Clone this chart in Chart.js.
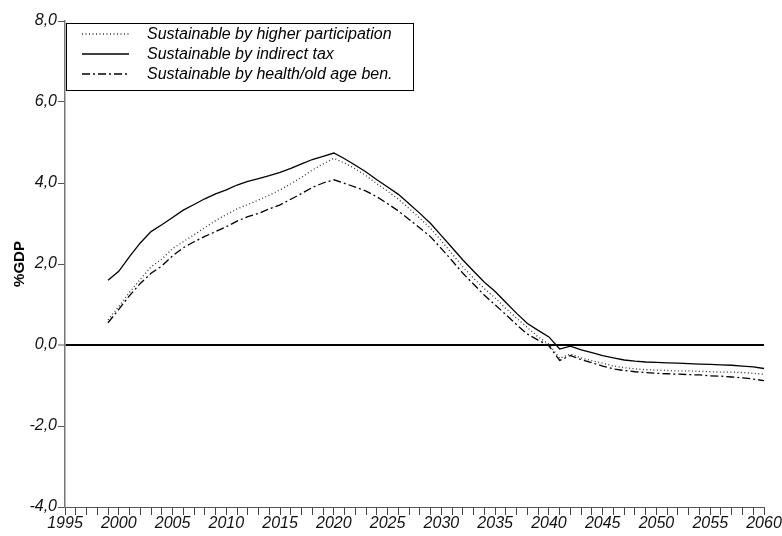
<!DOCTYPE html>
<html>
<head>
<meta charset="utf-8">
<script src="https://cdn.jsdelivr.net/npm/chart.js@4.4.1/dist/chart.umd.min.js"></script>
<style>
  html, body { margin: 0; padding: 0; background: #fff; }
  #wrap { width: 782px; height: 536px; }
</style>
</head>
<body>
<div id="wrap"><canvas id="chart" width="782" height="536"></canvas></div>
<script>
// years 1999..2060
var years = [];
for (var y = 1999; y <= 2060; y++) years.push(y);

var seriesNames = ['Sustainable by higher participation', 'Sustainable by indirect tax', 'Sustainable by health/old age ben.'];

var higherParticipation = [
  0.62, 0.95, 1.30, 1.62, 1.93, 2.12, 2.38, 2.55, 2.72, 2.90,
  3.07, 3.22, 3.36, 3.47, 3.58, 3.70, 3.83, 3.98, 4.14, 4.32,
  4.47, 4.61, 4.49, 4.35, 4.18, 3.98, 3.80, 3.60, 3.37, 3.13,
  2.88, 2.57, 2.25, 1.93, 1.65, 1.39, 1.16, 0.90, 0.66, 0.43,
  0.20, 0.02, -0.33, -0.22, -0.32, -0.39, -0.45, -0.52, -0.56, -0.59,
  -0.61, -0.62, -0.63, -0.64, -0.64, -0.65, -0.66, -0.67, -0.67, -0.68,
  -0.70, -0.72
];
var indirectTax = [
  1.60, 1.82, 2.18, 2.52, 2.80, 2.97, 3.15, 3.33, 3.47, 3.61,
  3.73, 3.83, 3.95, 4.04, 4.11, 4.18, 4.26, 4.36, 4.47, 4.58,
  4.66, 4.74, 4.60, 4.44, 4.27, 4.08, 3.90, 3.72, 3.49, 3.25,
  3.00, 2.70, 2.40, 2.10, 1.82, 1.55, 1.32, 1.05, 0.78, 0.53,
  0.36, 0.20, -0.10, -0.03, -0.12, -0.19, -0.26, -0.32, -0.37, -0.40,
  -0.42, -0.43, -0.44, -0.45, -0.46, -0.47, -0.48, -0.49, -0.50, -0.52,
  -0.54, -0.58
];
var healthOldAge = [
  0.55, 0.88, 1.22, 1.52, 1.77, 1.95, 2.20, 2.40, 2.55, 2.68,
  2.80, 2.92, 3.06, 3.17, 3.25, 3.36, 3.46, 3.60, 3.74, 3.89,
  4.00, 4.08, 3.99, 3.90, 3.80, 3.66, 3.49, 3.31, 3.10, 2.89,
  2.67, 2.38, 2.08, 1.77, 1.50, 1.23, 0.99, 0.75, 0.50, 0.27,
  0.12, -0.02, -0.38, -0.26, -0.36, -0.44, -0.52, -0.59, -0.63, -0.66,
  -0.68, -0.70, -0.71, -0.72, -0.73, -0.74, -0.76, -0.77, -0.79, -0.81,
  -0.84, -0.88
];

function toPoints(vals) {
  return vals.map(function (v, i) { return { x: years[i], y: v }; });
}

var fontFamily = '"Liberation Sans", Arial, sans-serif';

// legend box drawn inside plot area, top-left
var boxLegend = {
  id: 'boxLegend',
  afterDraw: function (chart) {
    var ctx = chart.ctx;
    var a = chart.chartArea;
    var x0 = a.left + 1, y0 = a.top + 2, w = 347, h = 67;
    ctx.save();
    ctx.fillStyle = '#fff';
    ctx.fillRect(x0, y0, w, h);
    ctx.strokeStyle = '#000';
    ctx.lineWidth = 1;
    ctx.setLineDash([]);
    ctx.strokeRect(x0 + 0.5, y0 + 0.5, w, h);
    ctx.font = 'italic 16px ' + fontFamily;
    ctx.textBaseline = 'middle';
    ctx.fillStyle = '#000';
    chart.data.datasets.forEach(function (ds, i) {
      var ry = y0 + 11 + i * 20;
      ctx.beginPath();
      ctx.setLineDash(ds.borderDash || []);
      ctx.strokeStyle = ds.borderColor;
      ctx.lineWidth = ds.borderWidth;
      ctx.moveTo(x0 + 16, ry);
      ctx.lineTo(x0 + 63, ry);
      ctx.stroke();
      ctx.setLineDash([]);
      ctx.fillText(ds.label, x0 + 81, ry + 1);
    });
    ctx.restore();
  }
};

new Chart(document.getElementById('chart').getContext('2d'), {
  type: 'line',
  data: {
    datasets: [
      { label: seriesNames[0], data: toPoints(higherParticipation), borderColor: '#333', borderWidth: 1.3, borderDash: [1, 2.5], pointRadius: 0, tension: 0, fill: false },
      { label: seriesNames[1], data: toPoints(indirectTax), borderColor: '#000', borderWidth: 1.3, pointRadius: 0, tension: 0, fill: false },
      { label: seriesNames[2], data: toPoints(healthOldAge), borderColor: '#000', borderWidth: 1.3, borderDash: [8, 3, 2, 3], pointRadius: 0, tension: 0, fill: false }
    ]
  },
  options: {
    responsive: false,
    animation: false,
    layout: { padding: { top: 21, right: 18, left: 0, bottom: 0 } },
    plugins: { legend: { display: false }, tooltip: { enabled: false } },
    scales: {
      x: {
        type: 'linear',
        min: 1995,
        max: 2060,
        afterFit: function (s) { s.height = 29; },
        border: { color: '#555', width: 1 },
        grid: { drawOnChartArea: false, tickLength: 8, color: '#444', lineWidth: 1 },
        ticks: {
          stepSize: 1,
          autoSkip: false,
          maxRotation: 0,
          padding: -1,
          color: '#111',
          font: { family: fontFamily, size: 16, style: 'italic' },
          callback: function (v) { return v % 5 === 0 ? String(v) : ''; }
        }
      },
      y: {
        min: -4,
        max: 8,
        afterFit: function (s) { s.width = 65; },
        border: { color: '#777', width: 1.5 },
        grid: {
          tickLength: 7,
          tickColor: '#555',
          tickWidth: 1,
          color: function (c) { return c.tick && c.tick.value === 0 ? '#000' : 'rgba(0,0,0,0)'; },
          lineWidth: function (c) { return c.tick && c.tick.value === 0 ? 2 : 1; }
        },
        ticks: {
          stepSize: 2,
          padding: 1,
          color: '#111',
          font: { family: fontFamily, size: 16, style: 'italic' },
          callback: function (v) { return v.toFixed(1).replace('.', ','); }
        },
        title: {
          display: true,
          text: '%GDP',
          color: '#000',
          padding: { top: 11, bottom: 0 },
          font: { family: fontFamily, size: 15, weight: 'bold' }
        }
      }
    }
  },
  plugins: [boxLegend]
});
</script>
</body>
</html>
